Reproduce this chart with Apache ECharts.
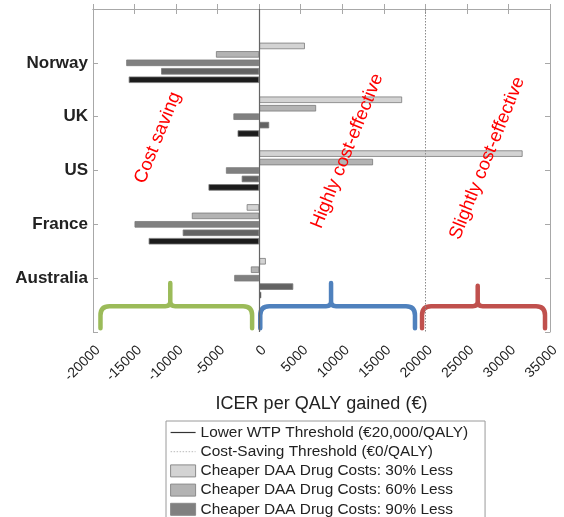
<!DOCTYPE html>
<html>
<head>
<meta charset="utf-8">
<script src="https://cdn.jsdelivr.net/npm/echarts@6/dist/echarts.min.js"></script>
<style>html,body{margin:0;padding:0;background:#fff;}#c{width:564px;height:517px;}</style>
</head>
<body>
<div id="c"></div>
<script>
// ---- data ----
const categories = ['Norway', 'UK', 'US', 'France', 'Australia'];
const seriesNames = [
  'Cheaper DAA Drug Costs: 30% Less',
  'Cheaper DAA Drug Costs: 60% Less',
  'Cheaper DAA Drug Costs: 90% Less',
  'Scenario 4',
  'Scenario 5'
];
const values30 = [5500, 17200, 31700, -1500, 800];
const values60 = [-5200, 6850, 13700, -8100, -1000];
const values90 = [-16000, -3100, -4000, -15000, -3000];
const values4 = [-11800, 1200, -2100, -9200, 4100];
const values5 = [-15700, -2600, -6100, -13300, 250];
const thresholdNames = ['Lower WTP Threshold (€20,000/QALY)', 'Cost-Saving Threshold (€0/QALY)'];
const thresholdValues = [20000, 0];
const annotationTexts = ['Cost saving', 'Highly cost-effective', 'Slightly cost-effective'];
const annotationX = [-12200, 10600, 27450];
const annotationY = [2.39, 2.64, 2.77];
const braceStart = [-19100, 130, 19600];
const braceEnd = [-850, 18750, 34400];
const braceTip = [-10700, 8650, 26300];
const braceTipY = [5.09, 5.09, 5.14];

// ---- styles ----
const barColors = ['#d3d3d3', '#b3b3b3', '#808080', '#636363', '#1c1c1c'];
const braceColors = ['#9bbb59', '#4f81bd', '#c0504d'];
const axisColor = '#a8a8a8';
const FONT = '"Liberation Sans", Arial, Helvetica, sans-serif';

const yCats = [''].concat(categories).concat(['']);
const pad = arr => ['-'].concat(arr).concat(['-']);
const allValues = [values30, values60, values90, values4, values5];

const chart = echarts.init(document.getElementById('c'), null, {renderer: 'canvas'});

const barSeries = allValues.map((vals, i) => ({
  name: seriesNames[i],
  type: 'bar',
  xAxisIndex: 0,
  yAxisIndex: 0,
  data: pad(vals),
  barWidth: 6.5,
  barGap: '30%',
  itemStyle: {color: barColors[i], borderColor: '#7a7a7a', borderWidth: 0.8},
  emphasis: {disabled: true},
  z: 2
}));

const lineSeries = [
  {
    name: thresholdNames[0],
    type: 'line',
    data: [],
    symbol: 'none',
    color: '#333',
    lineStyle: {color: '#333', width: 1.2, type: 'solid'},
    markLine: {
      silent: true, symbol: 'none', label: {show: false},
      lineStyle: {color: '#8a8a8a', width: 1, type: [1.5, 1.5]},
      data: [{xAxis: thresholdValues[0]}],
      z: 5
    }
  },
  {
    name: thresholdNames[1],
    type: 'line',
    data: [],
    symbol: 'none',
    color: '#bbb',
    lineStyle: {color: '#bbb', width: 1, type: [1.5, 1.5]},
    markLine: {
      silent: true, symbol: 'none', label: {show: false},
      lineStyle: {color: '#666', width: 1.2, type: 'solid'},
      data: [{xAxis: thresholdValues[1]}],
      z: 5
    }
  }
];

const braceSeries = {
  type: 'custom',
  xAxisIndex: 0,
  yAxisIndex: 2,
  silent: true,
  data: braceStart.map((s, i) => [s, braceEnd[i], braceTip[i], braceTipY[i]]),
  renderItem: function (params, api) {
    const i = params.dataIndex;
    const x0 = api.coord([api.value(0), 5.5])[0];
    const x1 = api.coord([api.value(1), 5.5])[0];
    const xt = api.coord([api.value(2), 5.5])[0];
    const yb = api.coord([0, 5.93])[1];
    const ym = api.coord([0, 5.52])[1];
    const yt = api.coord([0, api.value(3)])[1];
    const r = 9, r2 = 5;
    const p = [
      'M', x0, yb,
      'L', x0, ym + r,
      'Q', x0, ym, x0 + r, ym,
      'L', xt - r2, ym,
      'Q', xt, ym, xt, ym - r2,
      'L', xt, yt,
      'M', xt, ym - r2,
      'Q', xt, ym, xt + r2, ym,
      'L', x1 - r, ym,
      'Q', x1, ym, x1, ym + r,
      'L', x1, yb
    ].join(' ');
    return {
      type: 'path',
      shape: {pathData: p},
      style: {fill: 'none', stroke: braceColors[i], lineWidth: 4.5, lineCap: 'round', lineJoin: 'round'}
    };
  },
  z: 3
};

const annotationSeries = {
  type: 'custom',
  xAxisIndex: 0,
  yAxisIndex: 2,
  silent: true,
  data: annotationX.map((x, i) => [x, annotationY[i]]),
  renderItem: function (params, api) {
    const pt = api.coord([api.value(0), api.value(1)]);
    return {
      type: 'text',
      x: pt[0], y: pt[1],
      rotation: 68 * Math.PI / 180,
      style: {
        text: annotationTexts[params.dataIndex],
        fill: '#ff0000',
        font: '18.5px ' + FONT,
        align: 'center',
        verticalAlign: 'middle'
      }
    };
  },
  z: 6
};

const legendBarItem = i => ({
  name: seriesNames[i],
  icon: 'rect',
  itemStyle: {color: barColors[i], borderColor: '#8a8a8a', borderWidth: 1}
});

const option = {
  animation: false,
  backgroundColor: '#fff',
  textStyle: {fontFamily: FONT},
  grid: {left: 93, right: 14, top: 9, bottom: 185, containLabel: false},
  legend: {
    data: [
      {name: thresholdNames[0], icon: 'line', itemStyle: {color: '#333', borderColor: '#333', borderWidth: 1.2, borderType: 'solid'}},
      {name: thresholdNames[1], icon: 'line', itemStyle: {color: '#bbb', borderColor: '#bbb', borderWidth: 1, borderType: [1.5, 1.5]}},
      legendBarItem(0), legendBarItem(1), legendBarItem(2)
    ],
    orient: 'vertical',
    left: 166,
    top: 421,
    height: 160,
    padding: [3, 17, 40, 4],
    itemWidth: 25,
    itemHeight: 12,
    itemGap: 2.2,
    selectedMode: false,
    backgroundColor: '#fff',
    borderColor: '#9a9a9a',
    borderWidth: 1,
    textStyle: {fontSize: 15.4, color: '#222', fontFamily: FONT, lineHeight: 17}
  },
  xAxis: [
    {
      type: 'value', min: -20000, max: 35000, interval: 5000,
      position: 'bottom',
      name: 'ICER per QALY gained (€)',
      nameLocation: 'middle',
      nameGap: 63,
      nameTextStyle: {fontSize: 18, color: '#222', fontFamily: FONT},
      axisLine: {show: true, lineStyle: {color: axisColor}},
      axisTick: {show: true, inside: true, length: 5, lineStyle: {color: axisColor}},
      axisLabel: {rotate: 45, fontSize: 14, color: '#222', margin: 11, verticalAlign: 'top', formatter: v => String(v), fontFamily: FONT},
      splitLine: {show: false}
    },
    {
      type: 'value', min: -20000, max: 35000, interval: 5000,
      position: 'top',
      axisLine: {show: true, onZero: false, lineStyle: {color: axisColor}},
      axisTick: {show: true, inside: true, length: 5, lineStyle: {color: axisColor}},
      axisLabel: {show: false},
      splitLine: {show: false}
    }
  ],
  yAxis: [
    {
      type: 'category', data: yCats, inverse: true, boundaryGap: false,
      position: 'left',
      axisLine: {show: true, onZero: false, lineStyle: {color: axisColor}},
      axisTick: {show: true, inside: true, length: 5, lineStyle: {color: axisColor}},
      axisLabel: {fontSize: 17, fontWeight: 'bold', color: '#222', margin: 5, fontFamily: FONT, interval: 0},
      splitLine: {show: false}
    },
    {
      type: 'category', data: yCats, inverse: true, boundaryGap: false,
      position: 'right',
      axisLine: {show: true, onZero: false, lineStyle: {color: axisColor}},
      axisTick: {show: true, inside: true, length: 5, lineStyle: {color: axisColor}},
      axisLabel: {show: false},
      splitLine: {show: false}
    },
    {
      type: 'value', min: 0, max: 6, inverse: true, show: false
    }
  ],
  series: barSeries.concat(lineSeries).concat([braceSeries, annotationSeries])
};

chart.setOption(option);
</script>
</body>
</html>
